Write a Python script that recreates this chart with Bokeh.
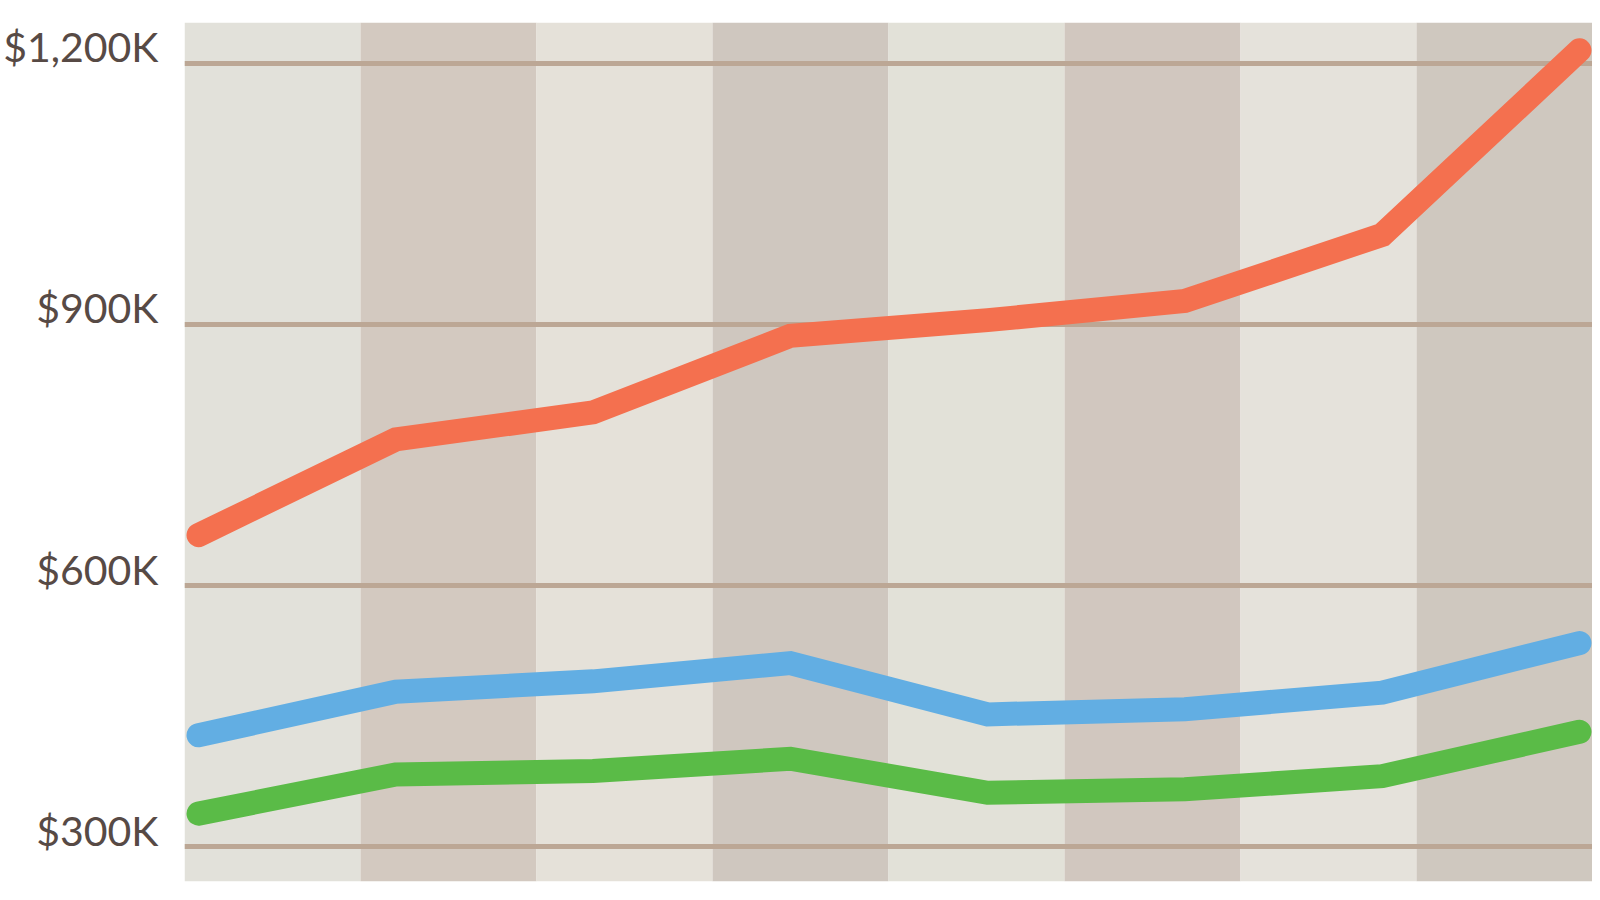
from bokeh.plotting import figure
from bokeh.models import Range1d, FixedTicker, LinearAxis
from bokeh.embed import file_html
from bokeh.resources import INLINE

# ---- data ----
periods = [0, 1, 2, 3, 4, 5, 6, 7]
series_red = [658, 768, 799, 887, 905, 927, 1003, 1215]
series_blue = [428, 478, 490, 511, 452, 458, 477, 534]
series_green = [338, 383, 387, 401, 362, 366, 381, 432]
tick_values = [300, 600, 900, 1200]
tick_labels = ["$300K", "$600K", "$900K", "$1,200K"]

# ---- style ----
band_colors = ["#e2e1da", "#d3c9c0", "#e5e1d9", "#cfc7bf",
               "#e2e1d8", "#d1c7bf", "#e5e2db", "#cfc8bf"]
red_c, blue_c, green_c = "#f4704f", "#62aee3", "#5abb47"
Y0, Y1 = 260, 1247
label_lift = 19  # labels sit slightly above their grid lines

p = figure(width=1592, height=892, output_backend="svg", toolbar_location=None,
           x_range=Range1d(-0.071, 7.066), y_range=Range1d(Y0, Y1),
           y_axis_location=None,
           min_border_left=184, min_border_right=0, min_border_top=22,
           min_border_bottom=11)
p.outline_line_color = None
p.background_fill_color = "white"
p.border_fill_color = "white"
p.xaxis.visible = False
p.xgrid.visible = False
p.ygrid.visible = False

# axis on a slightly shifted range so its labels sit above the grid lines
p.extra_y_ranges = {"lab": Range1d(Y0 - label_lift, Y1 - label_lift)}
ax = LinearAxis(y_range_name="lab")
ax.ticker = FixedTicker(ticks=tick_values)
ax.major_label_overrides = {v: l for v, l in zip(tick_values, tick_labels)}
ax.axis_line_color = None
ax.major_tick_line_color = None
ax.minor_tick_line_color = None
ax.major_tick_in = 0
ax.major_tick_out = 0
ax.major_label_standoff = 26
ax.major_label_text_font = "Lato"
ax.major_label_text_font_size = "41px"
ax.major_label_text_color = "#574a45"
p.add_layout(ax, "left")

# alternating vertical bands spanning the frame
x0, x1 = p.x_range.start, p.x_range.end
bw = (x1 - x0) / len(band_colors)
lefts = [x0 + i * bw for i in range(len(band_colors))]
rights = [l + bw for l in lefts]
p.quad(left=lefts, right=rights, bottom=Y0, top=Y1,
       fill_color=band_colors, line_color=None)

# horizontal grid lines
p.hspan(y=tick_values, line_color="#bca795", line_width=5)

for ys, c in [(series_green, green_c), (series_blue, blue_c), (series_red, red_c)]:
    p.line(periods, ys, line_color=c, line_width=24, line_cap="round", line_join="miter")

open("out.html", "w").write(file_html(p, INLINE))
